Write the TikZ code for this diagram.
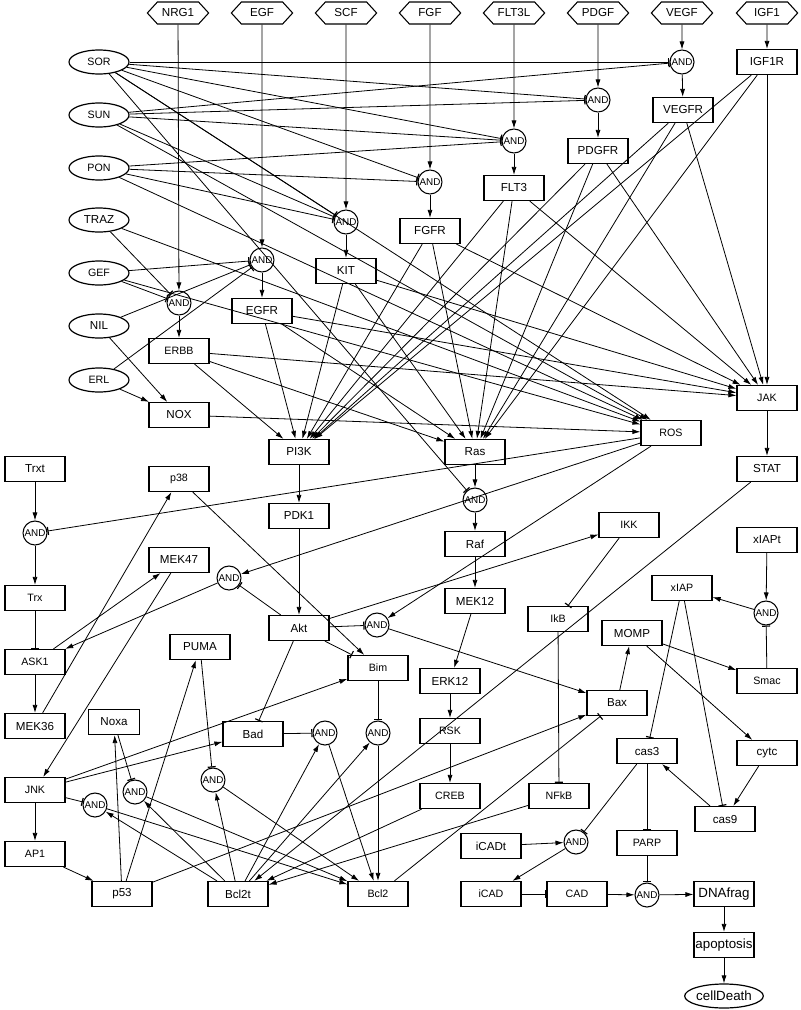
\documentclass[tikz,border=0pt]{standalone}
\usepackage{fontspec}
\setmainfont{Liberation Sans}
\usetikzlibrary{arrows.meta,shapes.geometric,shapes.symbols}
\begin{document}
\begin{tikzpicture}[x=0.75pt,y=-0.75pt,
  every node/.style={font=\fontsize{8.7}{10}\selectfont, inner sep=0pt},
  box/.style={draw, line width=0.9pt, minimum width=45pt, minimum height=18.75pt},
  sm/.style={font=\fontsize{8}{9}\selectfont},
  big/.style={font=\fontsize{10}{11}\selectfont},
  hex/.style={draw, line width=0.8pt, shape=signal, signal to=east and west, signal pointer angle=95, minimum width=46pt, minimum height=16.5pt},
  drug/.style={draw, ellipse, line width=0.9pt, minimum width=45pt, minimum height=18pt},
  gate/.style={draw, circle, line width=0.8pt, minimum size=18pt, font=\fontsize{7.4}{8}\selectfont},
  act/.style={-{Latex[length=6pt,width=3.8pt]}, line width=0.6pt},
  inh/.style={-{Bar[width=6pt,line width=0.9pt]}, line width=0.6pt},
]
\useasboundingbox (0,0) rectangle (800,1010);
% ligands
\node[hex] (NRG1) at (178,13) {NRG1};
\node[hex] (EGF) at (262,13) {EGF};
\node[hex] (SCF) at (346,13) {SCF};
\node[hex] (FGF) at (430,13) {FGF};
\node[hex] (FLT3L) at (514,13) {FLT3L};
\node[hex] (PDGF) at (598,13) {PDGF};
\node[hex] (VEGF) at (682,13) {VEGF};
\node[hex] (IGF1) at (767,13) {IGF1};
% drugs
\node[drug,sm] (SOR) at (99,62) {SOR};
\node[drug,sm] (SUN) at (99,115) {SUN};
\node[drug,sm] (PON) at (99,168) {PON};
\node[drug] (TRAZ) at (99,220) {TRAZ};
\node[drug,sm] (GEF) at (99,273) {GEF};
\node[drug] (NIL) at (99,326) {NIL};
\node[drug,sm] (ERL) at (99,380) {ERL};
% gates
\node[gate] (Avegf) at (682,62) {AND};
\node[gate] (Apdgf) at (598,100) {AND};
\node[gate] (Aflt) at (514,141) {AND};
\node[gate] (Afgf) at (430,182) {AND};
\node[gate] (Ascf) at (346,222) {AND};
\node[gate] (Aegf) at (262,260) {AND};
\node[gate] (Anrg) at (179,303) {AND};
\node[gate] (Aras) at (475,500) {AND};
\node[gate] (Atrx) at (35,533) {AND};
\node[gate] (Amek) at (229,578) {AND};
\node[gate] (Aakt) at (377,625) {AND};
\node[gate] (Axiap) at (766,613) {AND};
\node[gate] (Abad) at (325,733) {AND};
\node[gate] (Abim) at (378,733) {AND};
\node[gate] (Ajnk) at (95,805) {AND};
\node[gate] (Anoxa) at (135,792) {AND};
\node[gate] (Apuma) at (213,780) {AND};
\node[gate] (Aicad) at (576,842) {AND};
\node[gate] (Adna) at (647,895) {AND};
% boxes
\node[box] (IGF1R) at (767,62) {IGF1R};
\node[box] (VEGFR) at (683,110) {VEGFR};
\node[box] (PDGFR) at (598,151) {PDGFR};
\node[box] (FLT3) at (514,188) {FLT3};
\node[box] (FGFR) at (430,231) {FGFR};
\node[box] (KIT) at (346,271) {KIT};
\node[box] (EGFR) at (262,311) {EGFR};
\node[box,sm] (ERBB) at (179,351) {ERBB};
\node[box] (NOX) at (179,415) {NOX};
\node[box] (PI3K) at (299,452) {PI3K};
\node[box] (Ras) at (475,452) {Ras};
\node[box,sm] (ROS) at (671,433) {ROS};
\node[box,sm] (JAK) at (767,398) {JAK};
\node[box] (STAT) at (767,469) {STAT};
\node[box] (Trxt) at (35,469) {Trxt};
\node[box,sm] (p38) at (179,479) {p38};
\node[box,sm] (Trx) at (35,598) {Trx};
\node[box] (MEK47) at (179,560) {MEK47};
\node[box,sm] (ASK1) at (35,662) {ASK1};
\node[box] (PUMA) at (200,647) {PUMA};
\node[box] (MEK36) at (35,726) {MEK36};
\node[box,minimum width=38pt] (Noxa) at (114,722) {Noxa};
\node[box] (Bad) at (253,734) {Bad};
\node[box] (PDK1) at (299,516) {PDK1};
\node[box] (Raf) at (475,544) {Raf};
\node[box] (MEK12) at (475,601) {MEK12};
\node[box] (Akt) at (299,628) {Akt};
\node[box,sm] (Bim) at (378,668) {Bim};
\node[box] (ERK12) at (450,681) {ERK12};
\node[box,sm] (RSK) at (450,731) {RSK};
\node[box,sm] (IKK) at (629,525) {IKK};
\node[box] (xIAPt) at (767,540) {xIAPt};
\node[box,sm] (xIAP) at (682,588) {xIAP};
\node[box,sm] (IkB) at (558,619) {IkB};
\node[box] (MOMP) at (632,633) {MOMP};
\node[box,sm] (Smac) at (767,681) {Smac};
\node[box] (Bax) at (617,703) {Bax};
\node[box] (cas3) at (647,751) {cas3};
\node[box] (cytc) at (767,753) {cytc};
\node[box,sm] (JNK) at (35,790) {JNK};
\node[box,sm] (AP1) at (35,854) {AP1};
\node[box] (p53) at (122,894) {p53};
\node[box] (Bcl2t) at (238,894) {Bcl2t};
\node[box,sm] (Bcl2) at (378,894) {Bcl2};
\node[box,sm] (CREB) at (450,796) {CREB};
\node[box,sm] (NFkB) at (559,796) {NFkB};
\node[box] (iCADt) at (491,846) {iCADt};
\node[box,sm] (PARP) at (647,843) {PARP};
\node[box] (cas9) at (725,819) {cas9};
\node[box,sm] (iCAD) at (491,894) {iCAD};
\node[box,sm] (CAD) at (577,894) {CAD};
\node[box,big] (DNAfrag) at (724,894) {DNAfrag};
\node[box,big] (apoptosis) at (724,945) {apoptosis};
\node[drug,big] (cellDeath) at (724,996) {cellDeath};
% ligand edges
\draw[act] (NRG1) -- (Anrg);
\draw[act] (EGF) -- (Aegf);
\draw[act] (SCF) -- (Ascf);
\draw[act] (FGF) -- (Afgf);
\draw[act] (FLT3L) -- (Aflt);
\draw[act] (PDGF) -- (Apdgf);
\draw[act] (VEGF) -- (Avegf);
\draw[act] (IGF1) -- (IGF1R);
\draw[act] (Anrg) -- (ERBB);
\draw[act] (Aegf) -- (EGFR);
\draw[act] (Ascf) -- (KIT);
\draw[act] (Afgf) -- (FGFR);
\draw[act] (Aflt) -- (FLT3);
\draw[act] (Apdgf) -- (PDGFR);
\draw[act] (Avegf) -- (VEGFR);
% drug inhibitions
\foreach \t in {Avegf,Apdgf,Aflt,Afgf,Ascf,Aras} \draw[inh] (SOR) -- (\t);
\foreach \t in {Avegf,Apdgf,Aflt,Ascf} \draw[inh] (SUN) -- (\t);
\foreach \t in {Aflt,Afgf,Ascf} \draw[inh] (PON) -- (\t);
\draw[inh] (TRAZ) -- (Anrg);
\draw[inh] (GEF) -- (Aegf);
\draw[inh] (GEF) -- (Anrg);
\draw[inh] (NIL) -- (Aegf);
\draw[inh] (ERL) -- (Aegf);
\foreach \s in {SOR,SUN,PON,TRAZ,GEF} \draw[act] (\s) -- (ROS);
\draw[act] (NIL) -- (NOX);
\draw[act] (ERL) -- (NOX);
\draw[act] (NOX) -- (ROS);
% receptors
\foreach \r in {ERBB,EGFR,KIT,FGFR,FLT3,PDGFR,VEGFR,IGF1R} {
  \draw[act] (\r) -- (PI3K);
  \draw[act] (\r) -- (Ras);
  \draw[act] (\r) -- (JAK);
}
% signalling
\draw[act] (PI3K) -- (PDK1);
\draw[act] (PDK1) -- (Akt);
\draw[act] (Ras) -- (Aras);
\draw[act] (Aras) -- (Raf);
\draw[act] (Raf) -- (MEK12);
\draw[act] (MEK12) -- (ERK12);
\draw[act] (ERK12) -- (RSK);
\draw[act] (RSK) -- (CREB);
\draw[act] (JAK) -- (STAT);
\draw[inh] (ROS) -- (Atrx);
\draw[act] (Trxt) -- (Atrx);
\draw[act] (Atrx) -- (Trx);
\draw[inh] (Trx) -- (ASK1);
\draw[act] (ROS) -- (Amek);
\draw[inh] (Akt) -- (Amek);
\draw[act] (Amek) -- (ASK1);
\draw[act] (ASK1) -- (MEK36);
\draw[act] (ASK1) -- (MEK47);
\draw[act] (MEK36) -- (p38);
\draw[act] (MEK47) -- (JNK);
\draw[act] (p38) -- (Bim);
\draw[inh] (Akt) -- (Bim);
\draw[inh] (Akt) -- (Bad);
\draw[act] (Akt) -- (IKK);
\draw[inh] (Akt) -- (Aakt);
\draw[act] (ROS) -- (Aakt);
\draw[act] (Aakt) -- (Bax);
\draw[act] (JNK) -- (AP1);
\draw[act] (AP1) -- (p53);
\draw[act] (JNK) -- (Bim);
\draw[act] (JNK) -- (Bad);
\draw[inh] (JNK) -- (Ajnk);
\draw[act] (p53) -- (Noxa);
\draw[act] (p53) -- (PUMA);
\draw[act] (p53) -- (Bax);
\draw[inh] (Noxa) -- (Anoxa);
\draw[inh] (PUMA) -- (Apuma);
\draw[inh] (Bad) -- (Abad);
\draw[inh] (Bim) -- (Abim);
\foreach \g in {Ajnk,Anoxa,Apuma,Abad,Abim} {
  \draw[act] (Bcl2t) -- (\g);
  \draw[act] (\g) -- (Bcl2);
}
\draw[inh] (Bcl2) -- (Bax);
\draw[act] (STAT) -- (Bcl2t);
\draw[act] (CREB) -- (Bcl2t);
\draw[act] (NFkB) -- (Bcl2t);
\draw[inh] (IKK) -- (IkB);
\draw[inh] (IkB) -- (NFkB);
\draw[act] (Bax) -- (MOMP);
\draw[act] (MOMP) -- (Smac);
\draw[act] (MOMP) -- (cytc);
\draw[inh] (Smac) -- (Axiap);
\draw[act] (xIAPt) -- (Axiap);
\draw[act] (Axiap) -- (xIAP);
\draw[inh] (xIAP) -- (cas3);
\draw[inh] (xIAP) -- (cas9);
\draw[act] (cytc) -- (cas9);
\draw[act] (cas9) -- (cas3);
\draw[inh] (cas3) -- (PARP);
\draw[inh] (cas3) -- (Aicad);
\draw[act] (iCADt) -- (Aicad);
\draw[act] (Aicad) -- (iCAD);
\draw[inh] (iCAD) -- (CAD);
\draw[act] (CAD) -- (Adna);
\draw[inh] (PARP) -- (Adna);
\draw[act] (Adna) -- (DNAfrag);
\draw[act] (DNAfrag) -- (apoptosis);
\draw[act] (apoptosis) -- (cellDeath);
\end{tikzpicture}
\end{document}
